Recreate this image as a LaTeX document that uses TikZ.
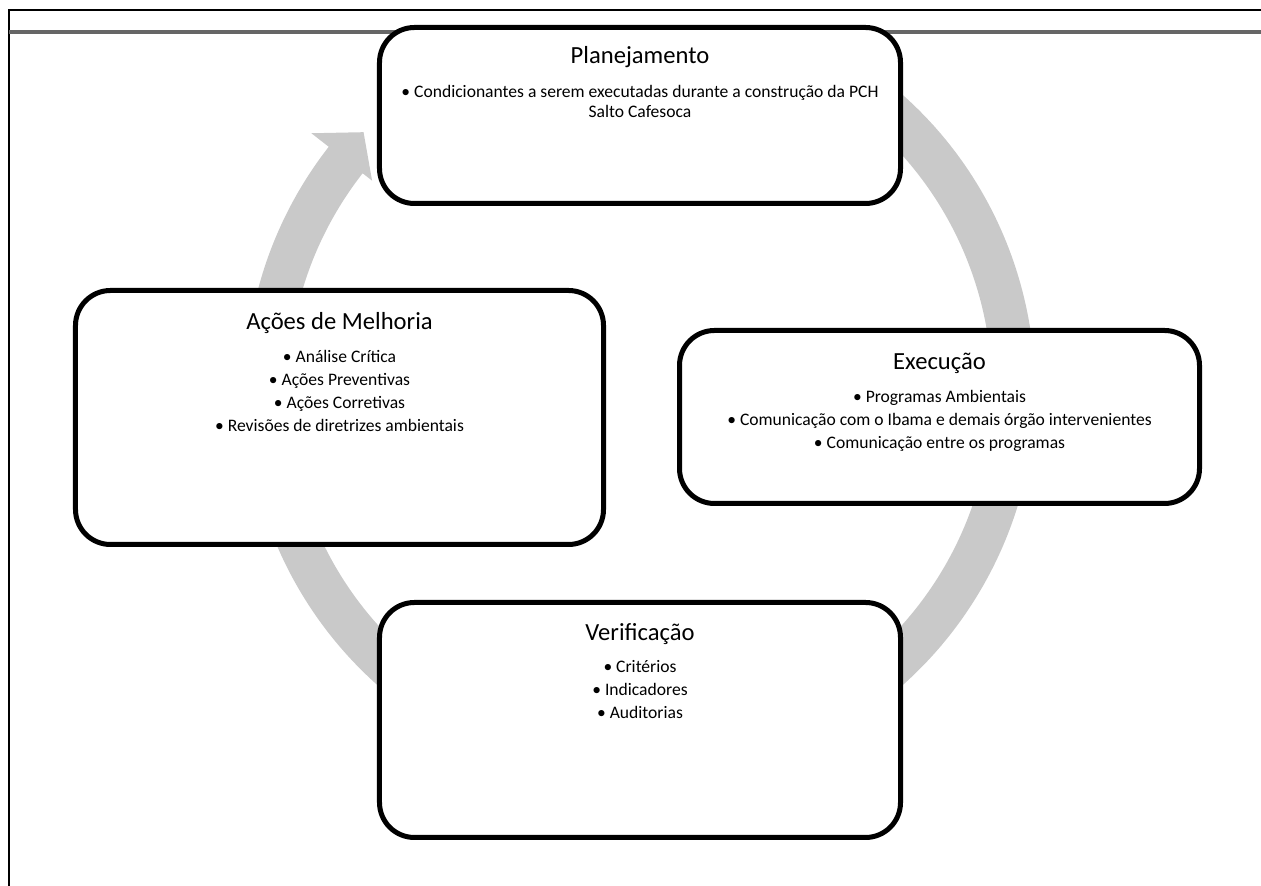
\documentclass[tikz,border=0pt]{standalone}
\usepackage{fontspec}
\setmainfont{Carlito}
\usetikzlibrary{positioning, calc}

\begin{document}
\begin{tikzpicture}[x=0.2mm, y=0.2mm, node distance=3.6mm,
  box/.style={draw, rounded corners=7mm, line width=1mm, fill=white, inner sep=0pt},
  ttl/.style={font=\fontsize{14}{17}\selectfont, inner sep=0pt},
  itm/.style={font=\fontsize{10}{13}\selectfont, align=center, inner sep=0pt},
  ring/.style={fill=black!21}]
\useasboundingbox (0,0) rectangle (1261,886);
\coordinate (O) at (640,496);
\fill[ring] ($(O)+(60:395)$) arc[start angle=60, end angle=-218, radius=395]
  -- ($(O)+(-218:417)$) -- ($(O)+(-223:378)$) -- ($(O)+(-218:340)$) -- ($(O)+(-218:352)$)
  arc[start angle=-218, end angle=60, radius=352] -- cycle;
\draw[line width=0.4mm] (1261,876) -- (9,876) -- (9,0);
\draw[black!60, line width=0.7mm] (9,854) -- (1261,854);
\node[box, minimum width=104.2mm, minimum height=35.2mm] (P) at (640,770.5) {};
\node[box, minimum width=105.6mm, minimum height=50.8mm] (M) at (339.5,468.5) {};
\node[box, minimum width=104mm, minimum height=34.6mm] (E) at (939.5,469) {};
\node[box, minimum width=104.2mm, minimum height=47mm] (V) at (640,166) {};
\node[ttl, below=4.3mm of P.north] (Pt) {Planejamento};
\node[itm, below=3.3mm of Pt] (Pi) {\textbullet\ Condicionantes a serem executadas durante a construção da PCH\\[-0.6mm]Salto Cafesoca};
\node[ttl, below=4.9mm of M.north] (Mt) {Ações de Melhoria};
\node[itm, below=3.2mm of Mt] (Mi) {\textbullet\ Análise Crítica\\\textbullet\ Ações Preventivas\\\textbullet\ Ações Corretivas\\\textbullet\ Revisões de diretrizes ambientais};
\node[ttl, below=4.9mm of E.north] (Et) {Execução};
\node[itm, below=3.3mm of Et] (Ei) {\textbullet\ Programas Ambientais\\\textbullet\ Comunicação com o Ibama e demais órgão intervenientes\\\textbullet\ Comunicação entre os programas};
\node[ttl, below=4.7mm of V.north] (Vt) {Verificação};
\node[itm, below=3mm of Vt] (Vi) {\textbullet\ Critérios\\\textbullet\ Indicadores\\\textbullet\ Auditorias};
\end{tikzpicture}
\end{document}
